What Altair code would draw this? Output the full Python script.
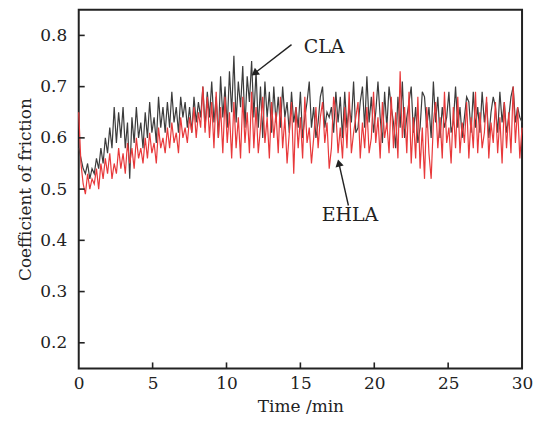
import altair as alt
import numpy as np
import pandas as pd

# Coefficient of friction, one value every 0.15 min
cla = [
    0.58, 0.56, 0.54, 0.53, 0.55, 0.52, 0.54, 0.53, 0.56, 0.54,
    0.58, 0.55, 0.60, 0.57, 0.62, 0.58, 0.66, 0.59, 0.65, 0.60,
    0.66, 0.58, 0.63, 0.52, 0.64, 0.59, 0.66, 0.60, 0.63, 0.58,
    0.65, 0.60, 0.67, 0.61, 0.64, 0.59, 0.68, 0.62, 0.66, 0.61,
    0.67, 0.62, 0.69, 0.63, 0.66, 0.61, 0.68, 0.64, 0.67, 0.62,
    0.66, 0.61, 0.68, 0.63, 0.67, 0.64, 0.70, 0.62, 0.69, 0.64,
    0.71, 0.63, 0.68, 0.60, 0.72, 0.64, 0.70, 0.62, 0.73, 0.65,
    0.76, 0.63, 0.71, 0.66, 0.74, 0.62, 0.72, 0.67, 0.75, 0.64,
    0.73, 0.62, 0.70, 0.60, 0.71, 0.64, 0.69, 0.61, 0.70, 0.63,
    0.68, 0.62, 0.70, 0.64, 0.67, 0.61, 0.69, 0.63, 0.66, 0.62,
    0.69, 0.60, 0.64, 0.67, 0.71, 0.62, 0.66, 0.60, 0.63, 0.68,
    0.70, 0.62, 0.65, 0.64, 0.66, 0.61, 0.69, 0.63, 0.68, 0.60,
    0.69, 0.62, 0.66, 0.63, 0.71, 0.61, 0.62, 0.67, 0.70, 0.62,
    0.72, 0.63, 0.68, 0.61, 0.65, 0.71, 0.64, 0.59, 0.69, 0.62,
    0.70, 0.66, 0.63, 0.58, 0.68, 0.62, 0.71, 0.60, 0.64, 0.67,
    0.70, 0.61, 0.66, 0.59, 0.62, 0.69, 0.68, 0.62, 0.66, 0.60,
    0.71, 0.63, 0.68, 0.60, 0.66, 0.62, 0.64, 0.69, 0.61, 0.63,
    0.70, 0.62, 0.66, 0.60, 0.64, 0.68, 0.67, 0.61, 0.69, 0.62,
    0.66, 0.61, 0.69, 0.63, 0.67, 0.60, 0.65, 0.68, 0.66, 0.61,
    0.69, 0.63, 0.67, 0.61, 0.64, 0.68, 0.70, 0.63, 0.66, 0.64,
    0.63,
]
ehla = [
    0.65, 0.55, 0.51, 0.49, 0.53, 0.50, 0.52, 0.51, 0.54, 0.50,
    0.55, 0.52, 0.56, 0.53, 0.57, 0.52, 0.55, 0.53, 0.58, 0.54,
    0.57, 0.53, 0.59, 0.55, 0.58, 0.54, 0.60, 0.56, 0.58, 0.55,
    0.60, 0.56, 0.61, 0.57, 0.59, 0.55, 0.62, 0.58, 0.60, 0.57,
    0.62, 0.58, 0.63, 0.59, 0.61, 0.57, 0.64, 0.60, 0.62, 0.59,
    0.64, 0.61, 0.66, 0.60, 0.65, 0.62, 0.70, 0.61, 0.68, 0.60,
    0.67, 0.58, 0.69, 0.60, 0.66, 0.57, 0.68, 0.59, 0.65, 0.56,
    0.67, 0.58, 0.64, 0.56, 0.68, 0.59, 0.65, 0.57, 0.69, 0.58,
    0.66, 0.57, 0.62, 0.68, 0.59, 0.64, 0.56, 0.67, 0.60, 0.65,
    0.57, 0.68, 0.58, 0.64, 0.55, 0.61, 0.67, 0.53, 0.66, 0.58,
    0.64, 0.56, 0.68, 0.59, 0.62, 0.55, 0.60, 0.66, 0.58, 0.64,
    0.67, 0.59, 0.63, 0.54, 0.58, 0.68, 0.65, 0.57, 0.62, 0.56,
    0.66, 0.58, 0.69, 0.57, 0.61, 0.64, 0.67, 0.56, 0.63, 0.58,
    0.66, 0.57, 0.60, 0.69, 0.59, 0.64, 0.56, 0.67, 0.60, 0.63,
    0.57, 0.68, 0.58, 0.65, 0.56, 0.73, 0.60, 0.66, 0.57, 0.69,
    0.55, 0.64, 0.56, 0.68, 0.54, 0.62, 0.52, 0.66, 0.57, 0.52,
    0.63, 0.67, 0.58, 0.64, 0.56, 0.69, 0.59, 0.62, 0.55, 0.66,
    0.58, 0.68, 0.57, 0.63, 0.59, 0.67, 0.56, 0.64, 0.58, 0.69,
    0.57, 0.65, 0.58, 0.61, 0.68, 0.56, 0.63, 0.59, 0.67, 0.57,
    0.64, 0.55, 0.67, 0.58, 0.65, 0.57, 0.70, 0.59, 0.66, 0.56,
    0.62,
]
time_step = 0.15
time_min = [round(i * time_step, 2) for i in range(len(cla))]

x_labels = [0, 5, 10, 15, 20, 25, 30]
x_ticks = [5, 10, 15, 20, 25]
y_ticks = [0.2, 0.3, 0.4, 0.5, 0.6, 0.7, 0.8]

labels = ["CLA", "EHLA"]
label_x = [16.6, 18.35]
label_y = [0.778, 0.449]
arrow_from_x = [14.4, 18.25]
arrow_from_y = [0.782, 0.468]
arrow_to_x = [11.9, 17.6]
arrow_to_y = [0.726, 0.551]

W, H = 445, 360
X_DOM = [0, 30]
Y_DOM = [0.15, 0.85]

xs = alt.Scale(domain=X_DOM, nice=False, zero=False)
ys = alt.Scale(domain=Y_DOM, nice=False, zero=False)
x_axis = alt.Axis(values=x_labels, format="d", title="Time /min")
y_axis = alt.Axis(values=y_ticks, format=".1f", title="Coefficient of friction")


def X(field):
    return alt.X(field, scale=xs, axis=x_axis, title="Time /min")


def Y(field):
    return alt.Y(field, scale=ys, axis=y_axis, title="Coefficient of friction")


df = pd.DataFrame({"t": time_min, "cla": cla, "ehla": ehla})

base = alt.Chart(df)
line_cla = base.mark_line(color="#3c3c3c", strokeWidth=1.2).encode(
    x=X("t:Q"), y=Y("cla:Q"),
)
line_ehla = base.mark_line(color="#e8393b", strokeWidth=1.2).encode(
    x=X("t:Q"), y=Y("ehla:Q"),
)

xt = alt.Chart(pd.DataFrame({"v": x_ticks})).mark_rule(color="#222", strokeWidth=1.6).encode(
    x=X("v:Q"), y=alt.value(H), y2=alt.value(H - 6),
)
yt = alt.Chart(pd.DataFrame({"v": y_ticks})).mark_rule(color="#222", strokeWidth=1.6).encode(
    y=Y("v:Q"), x=alt.value(0), x2=alt.value(6),
)

ann = pd.DataFrame({
    "label": labels, "lx": label_x, "ly": label_y,
    "x1": arrow_from_x, "y1": arrow_from_y, "x2": arrow_to_x, "y2": arrow_to_y,
})
px_x = W / (X_DOM[1] - X_DOM[0])
px_y = H / (Y_DOM[1] - Y_DOM[0])
dx = (ann["x2"] - ann["x1"]) * px_x
dy = -(ann["y2"] - ann["y1"]) * px_y
ann["angle"] = (np.degrees(np.arctan2(dx, -dy)) % 360).round(1)

texts = alt.Chart(ann).mark_text(font="DejaVu Serif", fontSize=19, color="#222").encode(
    x=X("lx:Q"), y=Y("ly:Q"), text="label:N",
)
shafts = alt.Chart(ann).mark_rule(color="#222", strokeWidth=1.4).encode(
    x=X("x1:Q"), y=Y("y1:Q"), x2="x2:Q", y2="y2:Q",
)
heads = alt.Chart(ann).mark_point(shape="triangle-up", filled=True, size=70,
                                  color="#222", opacity=1).encode(
    x=X("x2:Q"), y=Y("y2:Q"),
    angle=alt.Angle("angle:Q", scale=None),
)

chart = alt.layer(line_cla, line_ehla, xt, yt, shafts, heads, texts).properties(
    width=W, height=H,
    autosize=alt.AutoSizeParams(type="none"),
    padding={"left": 71, "top": 1, "right": 12, "bottom": 53},
).configure_view(
    stroke="#222", strokeWidth=2
).configure_axis(
    domain=False, ticks=False, grid=False,
    labelFont="DejaVu Serif", labelFontSize=17, labelColor="#222",
    titleFont="DejaVu Serif", titleFontSize=17, titleColor="#222",
    titleFontWeight="normal",
).configure_axisY(
    labelPadding=12, titlePadding=5,
).configure_axisX(
    labelPadding=7, titlePadding=7, labelFlush=False,
)

chart.save("out.html", embed_options={"renderer": "svg", "actions": False})
